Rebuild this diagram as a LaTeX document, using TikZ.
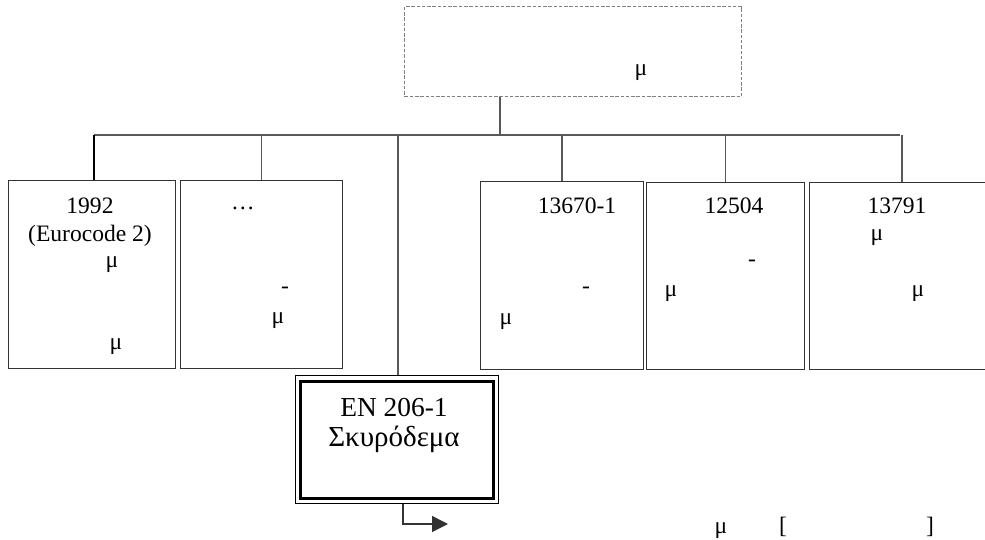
\documentclass[tikz,border=0pt]{standalone}
\usepackage{fontspec}
\setmainfont{Liberation Serif}
\usetikzlibrary{arrows.meta,positioning}
\tikzset{
  stdbox/.style={draw=black!80, line width=0.7pt, anchor=north west, inner sep=0pt},
  txt/.style={font=\fontsize{13.4}{16}\selectfont, inner sep=0pt},
  link/.style={draw=black!65, line width=0.8pt},
}
\begin{document}
\begin{tikzpicture}[x=0.02cm, y=-0.02cm]
  \useasboundingbox (0,0) rectangle (985,540);
  % Top (dashed) box
  \node[draw=black!50, dash pattern=on 2pt off 1pt, line width=0.6pt, anchor=north west,
        minimum width=337*0.02cm, minimum height=90*0.02cm] (head) at (404,6) {};
  \node[txt] (headmu) at (641,73) {μ};
  % Bus line
  \coordinate (busL) at (94,135);
  \coordinate (busR) at (900,135);
  \coordinate (bus500) at (500,135);
  \draw[link] (bus500 |- head.south) -- (bus500);
  \draw[link] (busL) -- (busR);
  % Standard boxes
  \node[stdbox, minimum width=167*0.02cm, minimum height=188*0.02cm] (ec) at (8,180) {};
  \node[stdbox, minimum width=162*0.02cm, minimum height=188*0.02cm] (oth) at (180,180) {};
  \node[stdbox, minimum width=163*0.02cm, minimum height=188*0.02cm] (en1) at (480,181) {};
  \node[stdbox, minimum width=158*0.02cm, minimum height=187*0.02cm] (en2) at (646,182) {};
  \node[stdbox, minimum width=185*0.02cm, minimum height=187*0.02cm] (en3) at (809,182) {};
  % Drops from the bus
  \draw[link, line width=1.4pt, black] (ec.north -| busL) -- (busL);
  \draw[link] (oth.north) -- (oth.north |- busL);
  \draw[link] (en1.north) -- (en1.north |- busL);
  \draw[link] (en2.north) -- (en2.north |- busL);
  \draw[link] (en3.north) -- (en3.north |- busL);
  % Concrete box (double frame)
  \node[draw=black, line width=0.85pt, anchor=north west,
        minimum width=203*0.02cm, minimum height=128*0.02cm] (conc) at (295,375) {};
  \node[draw=black, line width=1.8pt, minimum width=193*0.02cm,
        minimum height=117*0.02cm] (concin) at (conc.center) {};
  \coordinate (bus398) at (398,135);
  \draw[link] (bus398) -- (bus398 |- conc.north);
  \node[font=\fontsize{15.6}{19}\selectfont, inner sep=0pt] (conct) at (394,408) {EN 206-1};
  \node[font=\fontsize{16.5}{19}\selectfont, inner sep=0pt] (concg) at (394,439) {Σκυρόδεμα};
  % Output arrow
  \coordinate (outend) at (448,524);
  \draw[link, -{Triangle[length=9pt, width=9pt]}, black!80] (conc.south -| 403,0) |- (outend);
  % Texts in the boxes
  \node[txt] (ec1) at (90,206) {1992};
  \node[txt] (ec2) at (90,236) {(Eurocode 2)};
  \node[txt] (ec3) at (112,265) {μ};
  \node[txt] (ec4) at (116,347) {μ};
  \node[txt] (oth1) at (243,208) {…};
  \node[txt] (oth2) at (285,290) {-};
  \node[txt] (oth3) at (278,321) {μ};
  \node[txt] (en1a) at (577,206) {13670-1};
  \node[txt] (en1b) at (586,290) {-};
  \node[txt] (en1c) at (506,322) {μ};
  \node[txt] (en2a) at (734,206) {12504};
  \node[txt] (en2b) at (752,263) {-};
  \node[txt] (en2c) at (671,294) {μ};
  \node[txt] (en3a) at (897,206) {13791};
  \node[txt] (en3b) at (877,238) {μ};
  \node[txt] (en3c) at (918,294) {μ};
  % Bottom note
  \node[txt] (note1) at (721,531) {μ};
  \node[txt] (note2) at (783,527) {[};
  \node[txt] (note3) at (930,527) {]};
\end{tikzpicture}
\end{document}
